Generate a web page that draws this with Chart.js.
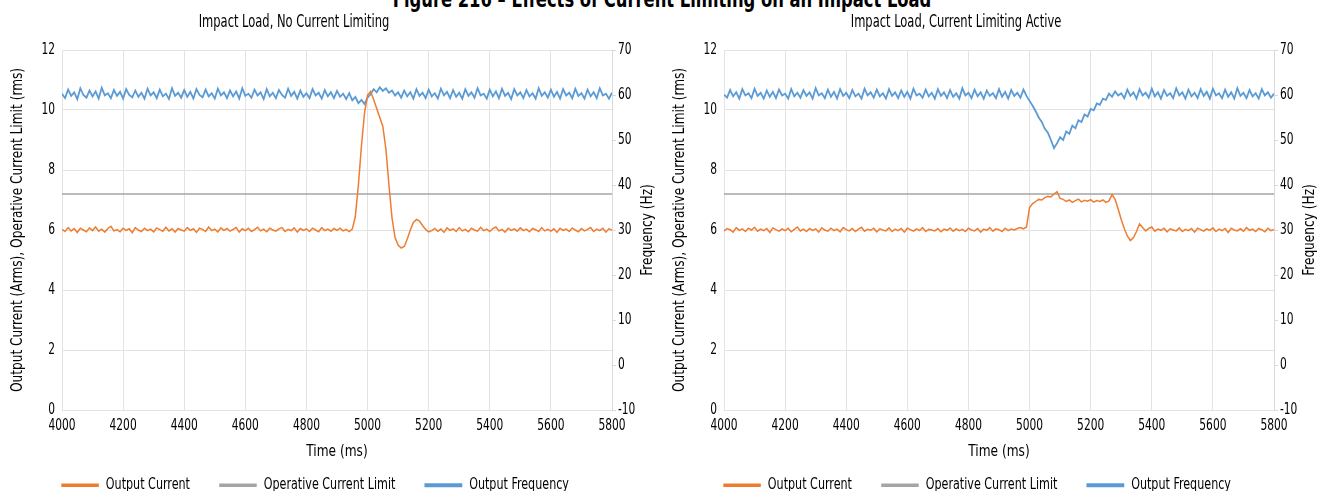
<!DOCTYPE html>
<html><head><meta charset="utf-8">
<script src="https://cdn.jsdelivr.net/npm/chart.js@4/dist/chart.umd.min.js"></script>
<style>
html,body{margin:0;padding:0;background:#fff;overflow:hidden;width:1323px;height:491px}
#main{position:absolute;left:0;top:-14px;width:1323px;text-align:center;font:bold 23px 'DejaVu Sans Condensed','DejaVu Sans',sans-serif;color:#000;white-space:nowrap;transform:scaleX(0.79);transform-origin:664px 0}
.box{position:absolute;top:0;width:661px;height:503px}
</style></head>
<body>
<div id="main">Figure 216 – Effects of Current Limiting on an Impact Load</div>
<div class="box" style="left:0"><canvas id="c1" width="661" height="503"></canvas></div>
<div class="box" style="left:662px"><canvas id="c2" width="661" height="503"></canvas></div>
<script>
// Sampling of the recorded traces (ms)
const TIME_START = 4000, TIME_STEP = 10;
const TIME_MIN = 4000, TIME_MAX = 5800;
const CURRENT_LIMIT = 7.2;
const SUBTITLES = ['Impact Load, No Current Limiting', 'Impact Load, Current Limiting Active'];
const SERIES_NAMES = ['Output Current', 'Operative Current Limit', 'Output Frequency'];
const X_TITLE = 'Time (ms)';
const Y_TITLE = 'Output Current (Arms), Operative Current Limit (rms)';
const FREQ_TITLE = 'Frequency (Hz)';

// Left: no current limiting
const leftCurrent = [
6.02,5.95,6.08,5.97,6.05,5.92,6.06,6.00,5.94,6.07,
5.98,6.10,5.96,6.03,5.93,6.05,6.12,5.97,6.01,5.94,
6.06,5.99,6.04,5.91,6.08,6.00,5.95,6.06,5.98,6.03,
5.94,6.07,6.01,5.96,6.09,5.97,6.04,5.93,6.05,6.00,
5.96,6.08,5.99,6.04,5.92,6.06,6.02,5.95,6.10,5.98,
6.03,5.94,6.07,5.99,6.05,5.96,6.02,6.08,5.93,6.04,
5.98,6.06,5.95,6.01,6.09,5.97,6.03,5.94,6.06,6.00,
5.96,6.04,6.08,5.95,6.02,5.98,6.07,5.93,6.05,5.99,
6.04,5.95,6.06,6.00,5.94,6.08,5.98,6.03,5.96,6.05,
5.99,6.06,5.97,6.02,5.95,6.03,6.45,7.50,8.80,9.90,
10.50,10.62,10.35,10.05,9.75,9.45,8.70,7.50,6.40,5.75,
5.50,5.40,5.45,5.70,6.00,6.25,6.35,6.30,6.15,6.02,
5.94,5.98,6.05,5.96,6.03,5.92,6.07,5.99,6.04,5.95,
6.08,5.97,6.02,5.94,6.06,6.00,5.96,6.09,5.98,6.03,
5.95,6.05,6.10,5.97,6.02,5.93,6.06,5.99,6.04,5.96,
6.07,5.98,6.03,5.94,6.05,6.01,5.95,6.08,5.97,6.02,
5.96,6.04,5.92,6.06,5.99,6.03,5.95,6.07,6.00,5.94,
6.05,5.97,6.02,6.08,5.95,6.03,5.98,6.06,5.93,6.04,
6.00];
const leftFrequency = [
60.3,59.3,61.2,59.8,60.6,59.1,61.5,60.0,59.4,61.0,
59.7,60.8,59.2,61.6,59.9,60.4,59.3,61.1,59.8,60.7,
59.2,61.3,60.0,59.5,61.0,59.6,60.5,59.2,61.4,59.9,
60.6,59.3,61.2,59.7,60.3,59.1,61.5,59.8,60.5,59.4,
61.1,59.6,60.7,59.2,61.3,60.0,59.5,61.2,59.7,60.4,
59.2,61.4,59.9,60.6,59.3,61.0,59.7,60.8,59.2,61.5,
59.8,60.3,59.4,61.2,59.9,60.6,59.1,61.3,59.7,60.5,
59.3,61.1,60.0,59.4,61.4,59.8,60.7,59.2,61.0,59.6,
60.4,59.3,61.3,59.9,60.5,59.2,61.1,59.7,60.6,59.3,
60.9,59.6,60.3,59.1,60.4,58.8,59.6,58.2,58.9,58.0,
59.4,60.2,61.3,60.6,61.7,60.9,61.5,60.5,61.0,59.9,
60.6,59.4,61.0,59.7,60.6,59.2,61.3,59.8,60.5,59.3,
61.2,59.7,60.4,59.2,61.4,59.9,60.7,59.3,61.1,59.6,
60.5,59.2,61.3,59.8,60.6,59.4,61.5,59.9,60.3,59.2,
61.2,59.7,60.8,59.3,61.4,59.8,60.5,59.1,61.3,59.9,
60.6,59.3,61.1,59.7,60.4,59.2,61.5,59.8,60.6,59.4,
61.2,59.6,60.7,59.2,61.3,59.9,60.5,59.3,61.4,59.8,
60.4,59.2,61.2,59.7,60.6,59.3,61.5,59.9,60.3,59.2,
60.5];

// Right: current limiting active
const rightCurrent = [
5.97,6.05,6.01,5.93,6.08,5.99,6.04,5.95,6.06,6.00,
6.09,5.96,6.03,5.98,6.05,5.92,6.07,6.01,5.96,6.04,
5.98,6.06,5.94,6.02,6.10,5.97,6.03,5.95,6.05,5.99,
6.04,5.93,6.07,6.00,5.96,6.06,5.98,6.03,5.94,6.08,
6.01,5.97,6.05,5.95,6.03,6.09,5.96,6.02,5.99,6.06,
5.94,6.04,6.00,5.97,6.07,5.95,6.03,5.98,6.05,5.93,
6.06,6.01,5.96,6.04,5.98,6.08,5.95,6.02,6.00,5.97,
6.05,5.94,6.03,5.99,6.07,5.96,6.04,5.98,6.02,5.95,
6.06,6.00,5.97,6.05,5.93,6.03,5.99,6.08,5.96,6.04,
6.01,5.95,6.06,5.98,6.03,6.00,6.05,6.08,6.04,6.10,
6.75,6.88,6.95,7.02,7.00,7.08,7.12,7.10,7.20,7.28,
7.05,7.02,6.95,7.00,6.92,6.98,7.03,6.94,6.99,6.96,
7.01,6.93,6.98,6.95,7.00,6.92,6.97,7.18,7.02,6.70,
6.35,6.05,5.80,5.65,5.75,5.95,6.20,6.08,5.97,6.05,
6.10,5.96,6.03,5.99,6.06,5.94,6.04,6.00,5.97,6.07,
5.95,6.02,5.98,6.05,5.93,6.06,6.01,5.96,6.04,5.99,
6.07,5.95,6.03,5.98,6.05,5.92,6.06,6.00,5.97,6.04,
5.96,6.08,5.99,6.03,5.95,6.05,6.01,5.94,6.06,5.98,
6.02];
const rightFrequency = [
60.1,59.4,61.1,59.7,60.6,59.2,61.3,59.9,60.4,59.3,
61.4,59.8,60.5,59.2,61.0,59.6,60.7,59.3,61.2,59.9,
60.3,59.2,61.3,59.7,60.5,59.4,61.1,59.8,60.6,59.2,
61.5,59.9,60.4,59.3,61.2,59.6,60.7,59.2,61.3,59.8,
60.5,59.3,61.1,59.7,60.3,59.2,61.4,59.9,60.6,59.4,
61.2,59.7,60.4,59.2,61.3,59.8,60.6,59.3,61.0,59.6,
60.7,59.2,61.4,59.9,60.3,59.4,61.2,59.7,60.5,59.2,
61.3,59.8,60.6,59.3,61.1,59.6,60.4,59.2,61.5,59.9,
60.5,59.3,61.2,59.7,60.6,59.2,61.0,59.8,60.4,59.3,
61.3,59.6,60.7,59.2,61.1,59.8,60.5,59.4,61.2,59.8,
58.7,57.6,56.4,55.0,54.0,52.5,51.6,50.0,48.2,49.3,
50.6,50.0,51.9,51.4,53.2,52.6,54.4,54.0,55.7,55.2,
56.9,56.6,58.1,57.8,59.2,58.9,60.3,59.6,60.8,59.9,
60.4,59.3,61.2,59.8,60.6,59.2,61.3,59.9,60.5,59.4,
61.4,59.7,60.6,59.2,61.1,59.8,60.4,59.3,61.5,59.9,
60.6,59.2,61.2,59.7,60.5,59.3,61.3,59.8,60.7,59.2,
61.4,59.9,60.4,59.3,61.2,59.6,60.6,59.2,61.5,59.8,
60.5,59.3,61.1,59.7,60.4,59.2,61.3,59.9,60.6,59.4,
60.3];

const FONT = "'DejaVu Sans Condensed','DejaVu Sans',sans-serif";
const ORANGE = '#ED7D31', GRAY = '#A5A5A5', BLUE = '#5B9BD5';
const GRID = '#e3e3e3';
const SIZE_TICK = 16, SIZE_AXIS = 16.5, SIZE_SUB = 18, SIZE_LEGEND = 15.5;
const LEGEND_PAD = 30;
const CANVAS_H = 503;
const PLOT_TOP = 50, PLOT_BOTTOM = 410;
const SUB_CENTER_X = 294, SUB_CENTER_Y = 22;
const LEGEND_SHIFT = -15;

// Narrow typeface look: condense canvas text horizontally (factor per font size)
const SQUEEZE = {16: 0.74, 16.5: 0.82, 18: 0.71, 15.5: 0.8};
(function () {
  const p = CanvasRenderingContext2D.prototype;
  const fill = p.fillText, measure = p.measureText;
  const factor = ctx => {
    const m = /([\d.]+)px/.exec(ctx.font);
    return (m && SQUEEZE[parseFloat(m[1])]) || 0.8;
  };
  p.fillText = function (text, x, y) {
    const k = factor(this);
    this.save(); this.translate(x, y); this.scale(k, 1);
    fill.call(this, text, 0, 0);
    this.restore();
  };
  p.measureText = function (text) {
    const k = factor(this);
    const m = measure.call(this, text);
    return {width: m.width * k,
            actualBoundingBoxAscent: m.actualBoundingBoxAscent,
            actualBoundingBoxDescent: m.actualBoundingBoxDescent,
            actualBoundingBoxLeft: m.actualBoundingBoxLeft * k,
            actualBoundingBoxRight: m.actualBoundingBoxRight * k};
  };
})();

// Panel subtitle + right-axis title (reads bottom-to-top) + legend offset
const panelTextPlugin = {
  id: 'panelText',
  afterLayout(chart) {
    chart.legend.left += LEGEND_SHIFT;
    chart.legend.right += LEGEND_SHIFT;
  },
  afterDraw(chart, args, opts) {
    const {ctx, chartArea} = chart;
    ctx.save();
    ctx.fillStyle = '#000';
    ctx.textAlign = 'center';
    ctx.textBaseline = 'middle';
    ctx.font = SIZE_SUB + 'px ' + FONT;
    ctx.fillText(opts.text, SUB_CENTER_X, SUB_CENTER_Y);
    const s = chart.scales.y2;
    ctx.translate(s.right - 13, (chartArea.top + chartArea.bottom) / 2);
    ctx.rotate(-Math.PI / 2);
    ctx.font = SIZE_AXIS + 'px ' + FONT;
    ctx.fillText(FREQ_TITLE, 0, 0);
    ctx.restore();
  }
};

function toPoints(values) {
  return values.map((v, i) => ({x: TIME_START + i * TIME_STEP, y: v}));
}

// legend box height = font + padding + 10 (Chart.js)
const LEGEND_TOP = CANVAS_H - (SIZE_LEGEND + LEGEND_PAD + 10);

function makeChart(id, subtitle, current, frequency) {
  new Chart(document.getElementById(id), {
    type: 'line',
    plugins: [panelTextPlugin],
    data: {
      datasets: [
        {label: SERIES_NAMES[0], data: toPoints(current), borderColor: ORANGE, backgroundColor: ORANGE,
         borderWidth: 1.5, pointRadius: 0, tension: 0, yAxisID: 'y'},
        {label: SERIES_NAMES[1], data: [{x: TIME_MIN, y: CURRENT_LIMIT}, {x: TIME_MAX, y: CURRENT_LIMIT}],
         borderColor: GRAY, backgroundColor: GRAY, borderWidth: 1.5, pointRadius: 0, yAxisID: 'y'},
        {label: SERIES_NAMES[2], data: toPoints(frequency), borderColor: BLUE, backgroundColor: BLUE,
         borderWidth: 1.8, pointRadius: 0, tension: 0, yAxisID: 'y2'}
      ]
    },
    options: {
      responsive: false, animation: false, events: [],
      layout: {padding: {top: PLOT_TOP}},
      plugins: {
        panelText: {text: subtitle},
        title: {display: false},
        legend: {position: 'bottom', labels: {boxWidth: 36, boxHeight: 2, color: '#000', padding: LEGEND_PAD,
                 font: {family: FONT, size: SIZE_LEGEND}}},
        tooltip: {enabled: false}
      },
      scales: {
        x: {type: 'linear', min: TIME_MIN, max: TIME_MAX,
            ticks: {stepSize: 200, color: '#000', font: {family: FONT, size: SIZE_TICK}, padding: 6, maxRotation: 0,
                    callback: v => String(v)},
            grid: {color: GRID, drawTicks: false}, border: {display: false},
            title: {display: true, text: X_TITLE, color: '#000', font: {family: FONT, size: SIZE_AXIS},
                    padding: {top: 0, bottom: LEGEND_TOP - 452 - SIZE_AXIS * 0.6}},
            afterFit: s => { s.height = LEGEND_TOP - PLOT_BOTTOM; }},
        y: {position: 'left', min: 0, max: 12,
            ticks: {stepSize: 2, color: '#000', font: {family: FONT, size: SIZE_TICK}, padding: 7},
            grid: {color: GRID, drawTicks: false}, border: {display: false},
            title: {display: true, text: Y_TITLE, color: '#000',
                    font: {family: FONT, size: SIZE_AXIS}, padding: {top: 8, bottom: 0}},
            afterFit: s => { s.width = 62; }},
        y2: {position: 'right', min: -10, max: 70,
            ticks: {stepSize: 10, color: '#000', font: {family: FONT, size: SIZE_TICK}, padding: 2},
            grid: {drawOnChartArea: false, drawTicks: true, tickLength: 4, color: '#d9d9d9'},
            border: {display: true, color: '#d9d9d9'},
            afterFit: s => { s.width = 49; }}
      }
    }
  });
}

makeChart('c1', SUBTITLES[0], leftCurrent, leftFrequency);
makeChart('c2', SUBTITLES[1], rightCurrent, rightFrequency);
</script>
</body></html>
